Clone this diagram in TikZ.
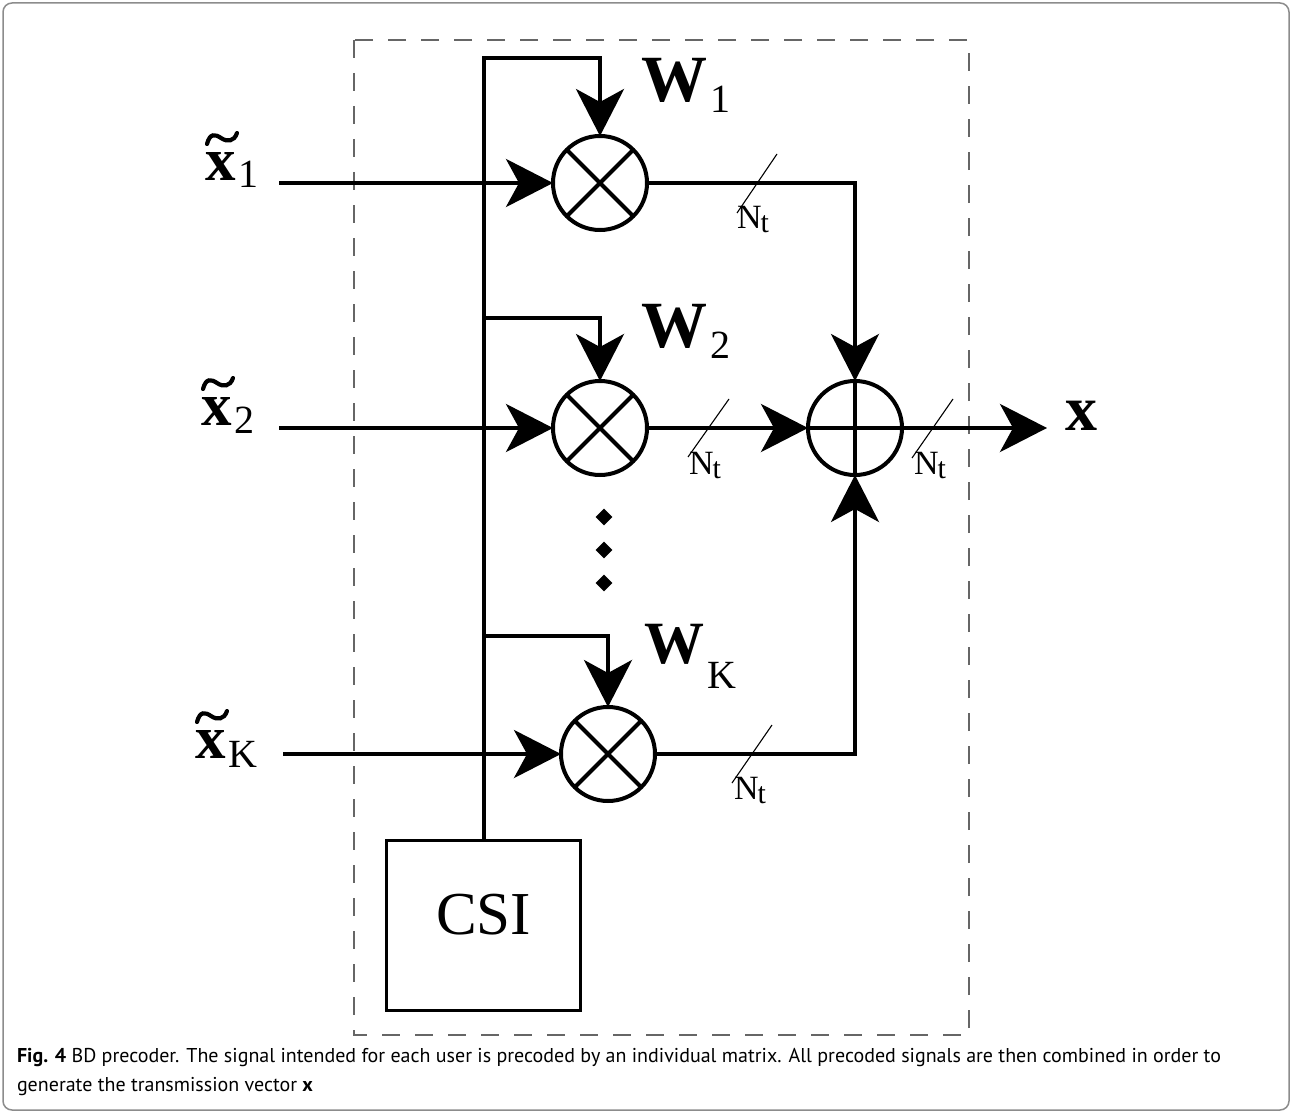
\documentclass[tikz,border=0pt]{standalone}
\usepackage{fontspec}
\setmainfont{Liberation Serif}
\newfontfamily\capfont{PT Sans}
\usetikzlibrary{arrows.meta,shapes.geometric,calc}
\newcommand\mylab[4]{{\fontsize{#4}{#4}\selectfont\bfseries #1}\kern3pt\raisebox{-#3}{\fontsize{40}{40}\selectfont #2}}
\newcommand\ntl{N\kern-1pt\raisebox{-4pt}{\fontsize{30}{30}\selectfont t}}
\begin{document}
\begin{tikzpicture}[x=1pt,y=-1pt,
  wire/.style={line width=4pt},
  arr/.style={wire,-{Stealth[length=47pt,width=48pt,inset=13pt]}},
  mult/.style={circle,draw,line width=4pt,minimum size=94pt,inner sep=0pt,outer sep=0pt},
  slash/.style={line width=1.1pt},
  lab/.style={anchor=base west,inner sep=0pt,outer sep=0pt},
  ntlab/.style={lab,font=\fontsize{34}{34}\selectfont},
  tildemark/.style={line width=4.2pt,line cap=round},
  dotm/.style={diamond,fill,inner sep=0pt,minimum size=17pt},
  frame/.style={draw=black!45,line width=1.5pt,rounded corners=9pt},
  dbox/.style={draw=black!60,line width=1.3pt,dash pattern=on 18pt off 15pt}]
\useasboundingbox (0,0) rectangle (1291,1113);
\draw[frame] (3,3) rectangle (1289,1110);
\draw[dbox] (354,40) rectangle (969,1035);

% nodes
\node[mult] (m1) at (600,183) {};
\node[mult] (m2) at (600,428) {};
\node[mult] (mK) at (608,754) {};
\node[mult] (add) at (855,428) {};
\draw[line width=4pt] (m1.45) -- (m1.225) (m1.135) -- (m1.315);
\draw[line width=4pt] (m2.45) -- (m2.225) (m2.135) -- (m2.315);
\draw[line width=4pt] (mK.45) -- (mK.225) (mK.135) -- (mK.315);
\draw[line width=4pt] (add.north) -- (add.south) (add.west) -- (add.east);
\node[draw,line width=3pt,minimum width=194pt,minimum height=170pt,inner sep=0pt,outer sep=0pt] (csi) at (483.5,925.5) {};
\node[lab,font=\fontsize{61}{61}\selectfont] (csit) at (436,934) {CSI};

\node[dotm] (d1) at (604,517) {};
\node[dotm] (d2) at (604,550) {};
\node[dotm] (d3) at (604,583) {};

% coordinates
\coordinate (in1) at (279,183);
\coordinate (in2) at (279,428);
\coordinate (inK) at (283,754);
\coordinate (topy) at (0,58);
\coordinate (br2) at (484,318);
\coordinate (brK) at (484,636);
\coordinate (xout) at (1047,428);

% connectors
\draw[arr] (in1) -- (m1.west);
\draw[arr] (in2) -- (m2.west);
\draw[arr] (inK) -- (mK.west);
\draw[arr] (csi.north) |- (m1.north |- topy) -- (m1.north);
\draw[arr] (br2) -| (m2.north);
\draw[arr] (brK) -| (mK.north);
\draw[arr] (m1.east) -| (add.north);
\draw[arr] (m2.east) -- (add.west);
\draw[arr] (mK.east) -| (add.south);
\draw[arr] (add.east) -- (xout);

% bus-width slashes
\draw[slash] (737,213) -- (777,154);
\draw[slash] (688,457) -- (729,399);
\draw[slash] (912,458) -- (953,399);
\draw[slash] (732,783) -- (772,725);
\node[ntlab] (n1) at (737,229) {\ntl};
\node[ntlab] (n2) at (689,474) {\ntl};
\node[ntlab] (n3) at (914,474) {\ntl};
\node[ntlab] (nK) at (734,799) {\ntl};

% labels
\node[lab] (x1) at (205,180) {\mylab{x}{1}{7pt}{61}};
\node[lab] (x2) at (201,425) {\mylab{x}{2}{8pt}{61}};
\node[lab] (xK) at (195,758) {\mylab{x}{K}{9pt}{61}};
\foreach \n in {x1,x2,xK}{
  \draw[tildemark] ($(\n.base west)+(2,-36)$) .. controls +(3,-11) and +(-6,-4) .. ($(\n.base west)+(16,-42)$)
     .. controls +(6,4) and +(-3,9) .. ($(\n.base west)+(32,-47)$);
}
\node[lab] (w1) at (641,102) {\mylab{W}{1}{11pt}{66}};
\node[lab] (w2) at (641,347) {\mylab{W}{2}{11pt}{66}};
\node[lab] (wK) at (644,663) {\mylab{W}{K}{25pt}{60}};
\node[lab,font=\fontsize{64}{64}\selectfont\bfseries] (xo) at (1065,430) {x};

% caption
\node[lab,font=\capfont\fontsize{20}{20}\selectfont] (cap1) at (17,1062) {\textbf{Fig. 4} BD precoder. The signal intended for each user is precoded by an individual matrix. All precoded signals are then combined in order to};
\node[lab,font=\capfont\fontsize{20}{20}\selectfont] (cap2) at (17,1091) {generate the transmission vector \textbf{x}};
\end{tikzpicture}
\end{document}
